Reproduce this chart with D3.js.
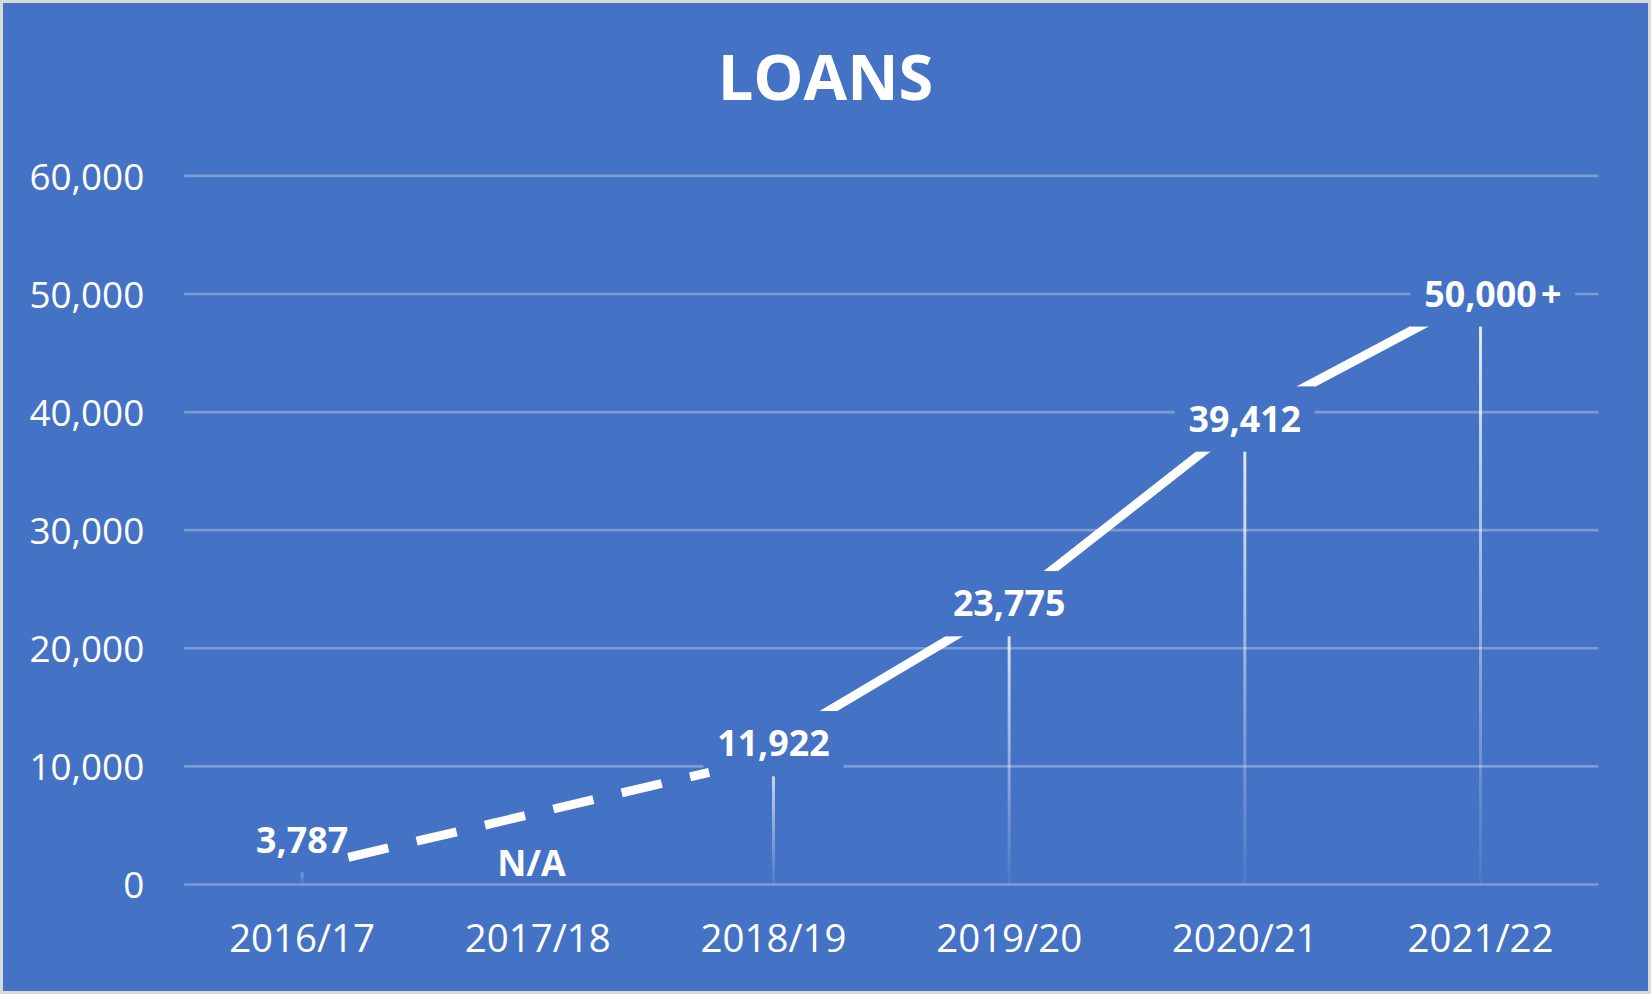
<!DOCTYPE html>
<html><head><meta charset="utf-8">
<script src="https://cdn.jsdelivr.net/npm/d3@7"></script>
<style>html,body{margin:0;padding:0;background:#fff;overflow:hidden}</style>
</head><body>
<svg id="c" width="1651" height="994" viewBox="0 0 1568 944"></svg>
<script>
const title = "LOANS";
const categories = ["2016/17","2017/18","2018/19","2019/20","2020/21","2021/22"];
const loans = [3787, null, 11922, 23775, 39412, 50000];
const labelTexts = ["3,787","N/A","11,922","23,775","39,412","50,000"];
const labelSuffix = ["","","","","","+"];
const yTicks = [0,10000,20000,30000,40000,50000,60000];
// hand-drawn dashed connector over the N/A gap (category index, value)
const connectorIndex = [0.196, 1.727];
const connectorValue = [2300, 9495];

const W = 1568, H = 944;
const blue = "#4472C4";
const font = "'Open Sans', 'Noto Sans', sans-serif";
const svg = d3.select("#c");

// frame
svg.append("rect").attr("x",0).attr("y",0).attr("width",W).attr("height",H).attr("fill","#d9d9d9");
svg.append("rect").attr("x",2.85).attr("y",2.85).attr("width",W-5.7).attr("height",H-5.7).attr("fill",blue);

const defs = svg.append("defs");
const g = defs.append("linearGradient").attr("id","fade").attr("x1",0).attr("y1",0).attr("x2",0).attr("y2",1);
g.append("stop").attr("offset","0%").attr("stop-color","#fff").attr("stop-opacity",0.9);
g.append("stop").attr("offset","100%").attr("stop-color","#fff").attr("stop-opacity",0.05);

const x = d3.scaleBand().domain(categories).range([175,1518]).padding(0);
const y = d3.scaleLinear().domain([0,60000]).range([840,167]);
const cx = c => x(c) + x.bandwidth()/2;
const xi = d3.scaleLinear().domain([0, categories.length-1]).range([cx(categories[0]), cx(categories[categories.length-1])]);

// title
svg.append("text").attr("x",W/2).attr("y",95).attr("text-anchor","middle")
  .attr("font-family",font).attr("font-weight",700).attr("font-size",60)
  .attr("fill","#fff").text(title);

// gridlines
svg.append("g").selectAll("line").data(yTicks).join("line")
  .attr("x1",175).attr("x2",1518).attr("y1",d=>y(d)).attr("y2",d=>y(d))
  .attr("stroke","rgba(255,255,255,0.3)").attr("stroke-width",2.5);

// y axis labels
const yAxis = d3.axisLeft(y).tickValues(yTicks).tickFormat(d3.format(",")).tickSize(0).tickPadding(0);
const ya = svg.append("g").attr("transform","translate(137,0)").call(yAxis);
ya.select(".domain").remove();
ya.selectAll("text").attr("font-family",font).attr("font-size",35).attr("fill","#fff").attr("dy","0.357em");

// x axis labels
const xAxis = d3.axisBottom(x).tickSize(0).tickPadding(0);
const xa = svg.append("g").attr("transform","translate(0,904)").call(xAxis);
xa.select(".domain").remove();
xa.selectAll("text").attr("font-family",font).attr("font-size",36.5).attr("fill","#fff").attr("dy",0);

const pts = categories.map((c,i)=>({c, v:loans[i], i})).filter(d=>d.v!=null);

// drop lines
svg.append("g").selectAll("rect").data(pts).join("rect")
  .attr("x",d=>cx(d.c)-1.4).attr("width",2.8)
  .attr("y",d=>y(d.v)).attr("height",d=>y(0)-y(d.v))
  .attr("fill","url(#fade)");

// solid line from the first point after the gap
const line = d3.line().x(d=>cx(d.c)).y(d=>y(d.v));
const gapEnd = pts.findIndex((d,k)=>k>0 && d.i - pts[k-1].i > 1);
const solidPts = pts.slice(gapEnd);
svg.append("path").attr("d",line(solidPts)).attr("fill","none").attr("stroke","#fff")
  .attr("stroke-width",8.5).attr("stroke-linejoin","miter");

// data labels with blue boxes
const lg = svg.append("g");
categories.forEach((c,i)=>{
  const v = loans[i];
  const px = cx(c);
  const isNA = v==null;
  const py = isNA ? y(0)-20 : y(v);
  const grp = lg.append("g");
  const rect = grp.append("rect").attr("fill",blue);
  const t = grp.append("text").attr("x",px).attr("y",py).attr("dy","0.357em").attr("dx", isNA ? -6 : 0)
    .attr("text-anchor","middle").attr("font-family",font).attr("font-weight",700)
    .attr("font-size",34).attr("fill","#fff").text(labelTexts[i]);
  const bb = t.node().getBBox();
  let right = bb.x + bb.width;
  if (labelSuffix[i]) {
    const s = grp.append("text").attr("x",right+4).attr("y",py).attr("dy","0.357em")
      .attr("font-family",font).attr("font-weight",700).attr("font-size",34)
      .attr("fill","#fff").text(labelSuffix[i]);
    const sb = s.node().getBBox();
    right = sb.x + sb.width;
  }
  if (isNA) { rect.remove(); return; }
  rect.attr("x",bb.x-13).attr("width",right-bb.x+26).attr("y",py-31).attr("height",62);
});

// dashed connector drawn on top
const conn = connectorIndex.map((k,j)=>({k, v:connectorValue[j]}));
svg.append("path")
  .attr("d", d3.line().x(d=>xi(d.k)).y(d=>y(d.v))(conn))
  .attr("fill","none").attr("stroke","#fff").attr("stroke-width",8.5)
  .attr("stroke-dasharray","39 27.7").attr("stroke-linecap","butt");
</script>
</body></html>
